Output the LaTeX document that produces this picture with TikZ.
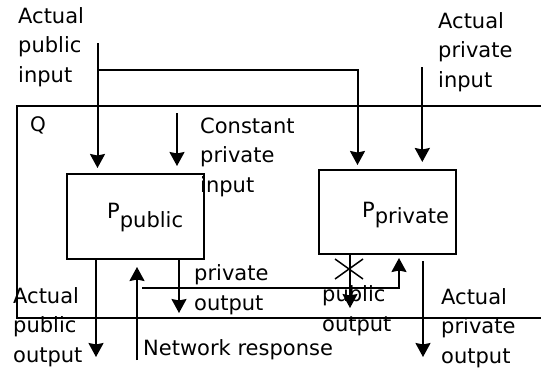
\documentclass[tikz,border=0pt]{standalone}
\usepackage{fontspec}
\setmainfont{DejaVu Sans}
\usetikzlibrary{arrows.meta}
\begin{document}
\begin{tikzpicture}[x=1pt,y=-1pt,
  lbl/.style={anchor=base west,inner sep=0pt,align=left,font=\fontsize{21}{29.5}\selectfont},
  proc/.style={draw,line width=2pt,minimum width=137pt,minimum height=85pt,inner sep=0pt},
  arr/.style={line width=2pt,-{Stealth[length=14pt,width=15pt,inset=1.5pt]}},
  ln/.style={line width=2pt}]
\useasboundingbox (0,0) rectangle (541,370);
% frame Q
\draw[ln] (541,106) -- (17,106) -- (17,318) -- (541,318);
\node[lbl,font=\fontsize{20}{20}\selectfont] (qT) at (30,131) {Q};
% processes
\node[proc] (Ppub) at (135.5,216.5) {};
\node[proc,minimum height=84pt] (Ppriv) at (387.5,212) {};
\node[lbl] (PpubL) at (107,218) {P\raisebox{-9pt}{public}};
\node[lbl] (PprivL) at (362,217) {P\raisebox{-6pt}{private}};
% texts (base anchor = baseline of last line)
\node[lbl] (apiT) at (18,82) {Actual\\public\\input};
\node[lbl] (apriT) at (438,87) {Actual\\private\\input};
\node[lbl] (cpiT) at (200,192) {Constant\\private\\input};
\node[lbl] (poT) at (194,310) {private\\output};
\node[lbl] (puoT) at (322,331) {public\\output};
\node[lbl] (apoT) at (13,362) {Actual\\public\\output};
\node[lbl] (nrT) at (143,355) {Network response};
\node[lbl] (aproT) at (441,363) {Actual\\private\\output};
% inputs
\coordinate (apiS) at (97.5,43);
\coordinate (apiJ) at (97.5,70);
\coordinate (apiK) at (357.5,70);
\draw[arr] (apiS) -- ([yshift=5pt]Ppub.north -| apiS);
\draw[arr] (apiJ) -- (apiK) -- ([yshift=4pt]Ppriv.north -| apiK);
\coordinate (cpiS) at (177,113);
\draw[arr] (cpiS) -- ([yshift=7pt]Ppub.north -| cpiS);
\coordinate (apriS) at (422.3,67);
\draw[arr] (apriS) -- ([yshift=7pt]Ppriv.north -| apriS);
% outputs
\coordinate (apoE) at (96,357);
\draw[arr] (Ppub.south -| apoE) -- (apoE);
\coordinate (nrS) at (137,360);
\draw[arr] (nrS) -- ([yshift=-7pt]Ppub.south -| nrS);
\coordinate (poE) at (179,313);
\draw[arr] ([yshift=2pt]Ppub.south -| poE) -- (poE);
\coordinate (fbS) at (142,288);
\coordinate (fbK) at (399,288);
\draw[arr] (fbS) -- (fbK) -- ([yshift=-3pt]Ppriv.south -| fbK);
\coordinate (puoE) at (350,308);
\draw[arr] ([yshift=2pt]Ppriv.south -| puoE) -- (puoE);
\coordinate (xc) at (349,269);
\draw[line width=1.5pt] (xc) ++(-14,-10) -- ++(28,20);
\draw[line width=1.5pt] (xc) ++(-14,10) -- ++(28,-20);
\coordinate (aproE) at (423,357);
\draw[arr] ([yshift=-6pt]Ppriv.south -| aproE) -- (aproE);
\end{tikzpicture}
\end{document}
